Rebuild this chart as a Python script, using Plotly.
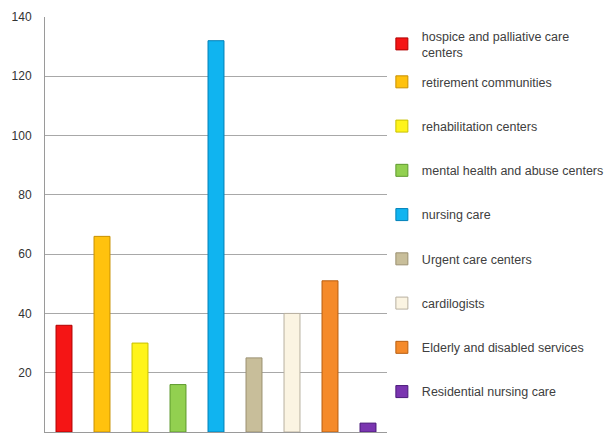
import plotly.graph_objects as go

categories = [
    "hospice and palliative care<br>centers",
    "retirement communities",
    "rehabilitation centers",
    "mental health and abuse centers",
    "nursing care",
    "Urgent care centers",
    "cardilogists",
    "Elderly and disabled services",
    "Residential nursing care",
]
values = [36, 66, 30, 16, 132, 25, 40, 51, 3]
colors = ["#F51515", "#FFC20E", "#FFF41A", "#92D050", "#10B4F0",
          "#C8BE9A", "#FBF4E2", "#F58A2A", "#7A35B0"]
outlines = ["#B00000", "#C89000", "#C8C000", "#5E9A2E", "#0080B8",
            "#9A9070", "#B8B0A0", "#B85E10", "#4A1A7A"]
y_ticks = [0, 20, 40, 60, 80, 100, 120, 140]

fig = go.Figure()
for i, (c, v) in enumerate(zip(categories, values)):
    fig.add_trace(go.Bar(
        x=[i], y=[v], name=c, width=0.42,
        marker=dict(color=colors[i], line=dict(color=outlines[i], width=1)),
        legendgroup=f"g{i}",
        legend="legend" if i == 0 else "legend2",
    ))

legend_common = dict(
    xanchor="left", yanchor="top",
    font=dict(family="Liberation Sans", size=12.5, color="#404040"),
    tracegroupgap=25, itemwidth=30, traceorder="grouped",
    bgcolor="rgba(0,0,0,0)",
)

fig.update_layout(
    width=610, height=434,
    margin=dict(l=45, r=223, t=17, b=2, autoexpand=False),
    paper_bgcolor="white", plot_bgcolor="white",
    barmode="overlay",
    showlegend=True,
    legend=dict(x=0.985, y=0.99, **legend_common),
    legend2=dict(x=0.985, y=0.879, **legend_common),
    font=dict(family="Liberation Sans", size=12, color="#404040"),
)
fig.update_xaxes(
    range=[-0.5, 8.5], showticklabels=False, showgrid=False,
    showline=True, linecolor="#9A9A9A", linewidth=1, ticks="",
)
fig.update_yaxes(
    range=[0, 140], tickvals=y_ticks, showgrid=True, gridcolor="#A8A8A8",
    gridwidth=1, showline=True, linecolor="#9A9A9A", linewidth=1,
    ticks="", ticklen=0, tickfont=dict(size=12, color="#333333"),
    ticklabelstandoff=10, zeroline=False,
)

fig.write_html("out.html", config={"displayModeBar": False},
               post_script="document.body.style.margin='0';")
